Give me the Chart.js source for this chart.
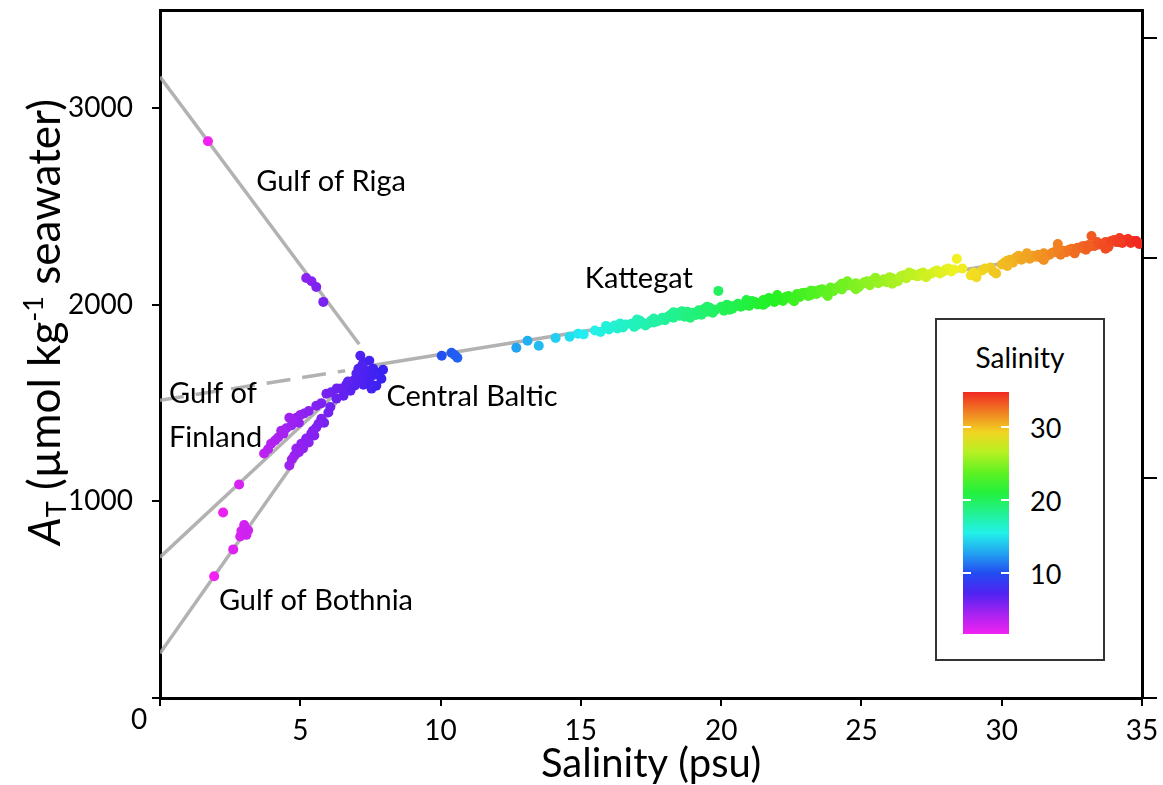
<!DOCTYPE html>
<html><head><meta charset="utf-8">
<script src="https://cdn.jsdelivr.net/npm/chart.js@4.4.1/dist/chart.umd.min.js"></script>
<style>
body{margin:0;background:#fff;}
#wrap{position:relative;width:1163px;height:785px;font-family:Lato,"Open Sans",sans-serif;color:#000;}
canvas{position:absolute;left:0;top:0;}
#ytitle{position:absolute;left:43px;top:322px;transform:translate(-50%,-50%) rotate(-90deg);font-size:44px;white-space:nowrap;line-height:1;}
#ytitle sub{font-size:27px;vertical-align:-6px;line-height:0;}
#ytitle sup{font-size:27px;vertical-align:17px;line-height:0;}
#legend{position:absolute;left:935px;top:318px;width:170px;height:343px;border:2px solid #333;background:#fff;box-sizing:border-box;}
#legend .ttl{position:absolute;left:0;width:166px;top:20px;text-align:center;font-size:28px;}
#bar{position:absolute;left:26px;top:72px;width:46px;height:242px;}
.lab{position:absolute;left:93px;font-size:27px;transform:translateY(-50%);}
.dash{position:absolute;width:8px;height:2px;background:#fff;}
</style></head>
<body><div id="wrap">
<canvas id="c" width="1163" height="785"></canvas>
<div id="ytitle"><i>A</i><sub>T</sub> (µmol kg<sup>-1</sup> seawater)</div>
<div id="legend"><div class="ttl">Salinity</div><div id="bar"></div></div>
</div>
<script>
// ---- data ----
const rigaS=[1.71,5.21,5.40,5.57,5.82];
const rigaA=[2832,2137,2120,2091,2015];

const finlandS=[2.25,2.82,3.71,3.85,3.96,4.10,4.21,4.32,4.50,4.61,4.68,4.86,4.95,5.14,5.30,5.57,5.75,5.93,6.10,6.30,4.40,4.75,5.00];
const finlandA=[944,1086,1244,1265,1294,1310,1325,1360,1372,1426,1386,1426,1400,1447,1460,1487,1500,1548,1555,1575,1345,1410,1440];

const bothniaS=[1.93,2.61,2.86,2.90,2.96,3.00,3.04,3.14,3.08,4.61,4.79,4.86,5.04,5.10,5.21,5.30,5.39,5.50,5.57,5.75,5.85,6.00,6.07,4.70,4.95,5.45,5.65];
const bothniaA=[619,756,822,850,843,880,863,853,830,1183,1234,1269,1294,1270,1320,1300,1345,1335,1376,1421,1400,1452,1480,1215,1250,1360,1395];

const centralS=[7.14,7.25,7.07,7.36,7.60,7.82,7.89,7.46,7.25,6.89,6.64,6.46,6.79,7.54,7.71,7.00,7.46,6.54,6.29,7.95,7.30,7.10,6.95,7.65,7.20,7.50,6.70,10.04,10.39,10.60,10.50];
const centralA=[1741,1706,1675,1665,1675,1655,1624,1624,1594,1614,1594,1574,1563,1574,1589,1650,1716,1538,1523,1670,1640,1620,1590,1645,1690,1600,1610,1741,1756,1731,1745];

const mainS=[12.7,13.1,13.5,14.1,14.6,14.9,15.1,15.9,16.3,16.5,16.8,17.0,17.2,17.4,17.5,17.7,17.9,18.0,18.2,18.3,18.5,18.6,18.7,18.9,19.0,19.2,19.3,19.5,19.6,19.8,19.9,20.0,20.1,20.3,20.4,20.6,20.7,20.9,21.0,21.2,21.3,21.5,21.6,21.8,21.9,22.1,22.2,22.4,22.5,22.7,22.8,23.0,23.1,23.3,23.4,23.6,23.7,23.9,24.0,24.2,24.3,24.5,24.6,24.8,24.9,25.1,25.3,25.4,25.6,25.8,25.9,26.1,26.3,26.5,26.6,26.8,27.0,27.2,27.4,27.6,27.8,28.0,28.2,28.4,28.6,28.9,29.1,29.3,29.6,29.8,30.0,30.2,30.4,30.5,30.7,30.9,31.0,31.2,31.4,31.5,31.7,31.9,32.0,32.1,32.3,32.5,32.6,32.8,33.0,33.2,33.3,33.5,33.7,33.8,34.0,34.2,34.3,34.5,34.7,34.9,
  15.5,15.7,16.0,16.2,16.6,16.9,17.1,17.3,17.6,17.8,18.1,18.4,18.8,19.1,19.4,19.7,20.2,20.5,20.8,21.1,21.4,21.7,22.0,22.3,22.6,22.9,23.2,23.5,23.8,24.1,24.4,24.7,25.0,25.2,25.5,25.7,26.0,26.2,26.4,26.7,26.9,27.1,27.3,27.5,27.7,27.9,28.1,28.3,29.0,29.4,29.7,30.1,30.3,30.6,30.8,31.1,31.3,31.6,31.8,32.2,32.4,32.7,32.9,33.1,33.4,33.6,33.9,34.1,34.4,34.6,34.8,
  16.4,17.0,17.6,18.3,18.9,19.5,20.3,20.9,21.5,22.0,22.6,23.2,23.8,24.3,24.8,25.5,26.1,26.7,27.3,30.2,30.9,31.5,32.0,32.6,33.1,33.7,34.2];
const mainA=[1782,1817,1792,1832,1838,1853,1850,1893,1880,1885,1904,1898,1909,1905,1919,1915,1934,1922,1950,1935,1945,1968,1940,1955,1960,1972,1950,1965,1985,1975,2071,1990,1970,1995,1980,2005,1990,2010,1995,2015,2002,2025,2010,2030,2015,2035,2020,2045,2030,2055,2040,2062,2045,2070,2055,2080,2060,2088,2070,2095,2078,2120,2100,2110,2090,2115,2100,2125,2110,2130,2115,2135,2120,2150,2135,2158,2145,2165,2155,2170,2160,2180,2170,2234,2185,2150,2140,2175,2190,2160,2205,2225,2215,2240,2230,2258,2235,2245,2240,2262,2255,2270,2310,2255,2268,2285,2270,2290,2280,2350,2300,2310,2320,2295,2330,2340,2315,2335,2325,2310,
  1870,1862,1875,1895,1900,1888,1920,1895,1930,1920,1940,1958,1965,1948,1980,1960,2000,1995,1998,2020,2010,2035,2025,2040,2035,2060,2050,2075,2065,2085,2105,2095,2105,2120,2120,2118,2140,2125,2145,2150,2150,2160,2150,2160,2175,2168,2185,2180,2165,2185,2170,2215,2230,2250,2240,2250,2255,2250,2265,2275,2280,2290,2300,2295,2320,2305,2325,2320,2330,2315,2325,
  1905,1925,1910,1962,1935,1990,1975,2025,2000,2050,2018,2072,2045,2108,2080,2138,2108,2165,2140,2198,2262,2228,2285,2262,2305,2285,2318];

// regression lines: [salinity, alkalinity] end points
const rigaLine=[[0,3160],[7.1,1800]];
const mainLine=[[7.5,1690],[35,2325]];
const mainDashed=[[0,1515],[6.6,1665]];
const finlandLine=[[0,716],[6.8,1620]];
const bothniaLine=[[0,228],[6.6,1568]];

const xTicks=[0,5,10,15,20,25,30,35];
const yTicks=[0,1000,2000,3000];
const rightTicks=[0,1,2,3];
const colorbarTicks=[10,20,30];
const colorbarRange=[1.6,34.8];

const labelText=["Gulf of Riga","Central Baltic","Kattegat","Gulf of","Finland","Gulf of Bothnia"];
const labelS=[3.43,8.07,15.14,0.32,0.32,2.10];
const labelA=[2629,1533,2132,1548,1325,497];

// ---- styling helpers ----
function salColor(s){const h=Math.max(0,Math.min(300,300*(35-s)/33));return 'hsl('+h.toFixed(1)+',88%,54%)';}
function pts(xs,ys){return xs.map((x,i)=>({x:x,y:ys[i]}));}
function pairPts(arr){return arr.map(p=>({x:p[0],y:p[1]}));}
const FONT='Lato, "Open Sans", sans-serif';
const lineGrey='rgba(165,165,165,0.85)';

function scatterSet(xs,ys){
  return {data:pts(xs,ys),pointRadius:5,pointBorderWidth:0,pointBackgroundColor:xs.map(salColor),showLine:false,order:0};
}
function lineSet(arr,dash){
  return {data:pairPts(arr),showLine:true,borderColor:lineGrey,borderWidth:3.5,borderDash:dash||[],pointRadius:0,order:1,fill:false};
}

const datasets=[
  lineSet(rigaLine),lineSet(mainLine),lineSet(mainDashed,[24,12]),lineSet(finlandLine),lineSet(bothniaLine),
  scatterSet(rigaS,rigaA),scatterSet(finlandS,finlandA),scatterSet(bothniaS,bothniaA),scatterSet(centralS,centralA),scatterSet(mainS,mainA)
];

const labelPlugin={
  id:'labels',
  afterDatasetsDraw(chart){
    const ctx=chart.ctx,xs=chart.scales.x,ys=chart.scales.y;
    ctx.save();
    ctx.fillStyle='#000';
    ctx.font='29px '+FONT;
    ctx.textAlign='left';ctx.textBaseline='middle';
    labelText.forEach((t,i)=>ctx.fillText(t,xs.getPixelForValue(labelS[i]),ys.getPixelForValue(labelA[i])));
    ctx.font='28px '+FONT;
    ctx.textAlign='center';
    ctx.fillText('0',xs.getPixelForValue(0)-21,ys.getPixelForValue(0)+22);
    ctx.restore();
  }
};

function noPadV(s){s.paddingTop=0;s.paddingBottom=0;}
function noPadH(s){s.paddingLeft=0;s.paddingRight=0;}

new Chart(document.getElementById('c'),{
  type:'scatter',
  data:{datasets:datasets},
  options:{
    responsive:false,animation:false,devicePixelRatio:1,
    layout:{padding:0},
    plugins:{legend:{display:false},tooltip:{enabled:false}},
    scales:{
      x:{type:'linear',position:'bottom',min:0,max:35,
        afterBuildTicks:s=>{s.ticks=xTicks.map(v=>({value:v}));},
        afterFit:s=>{s.height=87;noPadH(s);},
        grid:{drawOnChartArea:false,drawTicks:true,tickLength:8,color:'#000',lineWidth:2},
        border:{color:'#000',width:3},
        ticks:{font:{family:FONT,size:28},color:'#000',padding:8,maxRotation:0,autoSkip:false,callback:v=>v===0?'':String(v)},
        title:{display:true,text:'Salinity (psu)',font:{family:FONT,size:40,lineHeight:1.05},color:'#000',padding:{top:0,bottom:0}}},
      x2:{type:'linear',position:'top',min:0,max:35,
        afterFit:s=>{s.height=10;noPadH(s);},
        grid:{display:false},ticks:{display:false},border:{color:'#000',width:3}},
      y:{type:'linear',position:'left',min:0,max:3500,
        afterBuildTicks:s=>{s.ticks=yTicks.map(v=>({value:v}));},
        afterFit:s=>{s.width=160;noPadV(s);},
        grid:{drawOnChartArea:false,drawTicks:true,tickLength:8,color:'#000',lineWidth:2},
        border:{color:'#000',width:3},
        ticks:{font:{family:FONT,size:28},color:'#000',padding:19,callback:v=>v===0?'':String(v)}},
      y2:{type:'linear',position:'right',min:0,max:3.127,
        afterBuildTicks:s=>{s.ticks=rightTicks.map(v=>({value:v}));},
        afterFit:s=>{s.width=21;noPadV(s);},
        grid:{drawOnChartArea:false,drawTicks:true,tickLength:15,color:'#000',lineWidth:2},
        border:{color:'#000',width:3},
        ticks:{display:false}}
    }
  },
  plugins:[labelPlugin]
});

// ---- colour bar legend ----
(function(){
  const bar=document.getElementById('bar');
  const lo=colorbarRange[0],hi=colorbarRange[1];
  const stops=[];
  for(let k=0;k<=12;k++){const s=hi-(hi-lo)*k/12;stops.push(salColor(s)+' '+(k/12*100).toFixed(1)+'%');}
  bar.style.background='linear-gradient(to bottom,'+stops.join(',')+')';
  const legend=document.getElementById('legend');
  const top=72,h=242;
  colorbarTicks.forEach(t=>{
    const y=top+(hi-t)/(hi-lo)*h;
    const lab=document.createElement('div');lab.className='lab';lab.style.top=y+'px';lab.textContent=String(t);legend.appendChild(lab);
    [26,64].forEach(x=>{const d=document.createElement('div');d.className='dash';d.style.left=x+'px';d.style.top=(y-1)+'px';legend.appendChild(d);});
  });
})();
</script>
</body></html>
